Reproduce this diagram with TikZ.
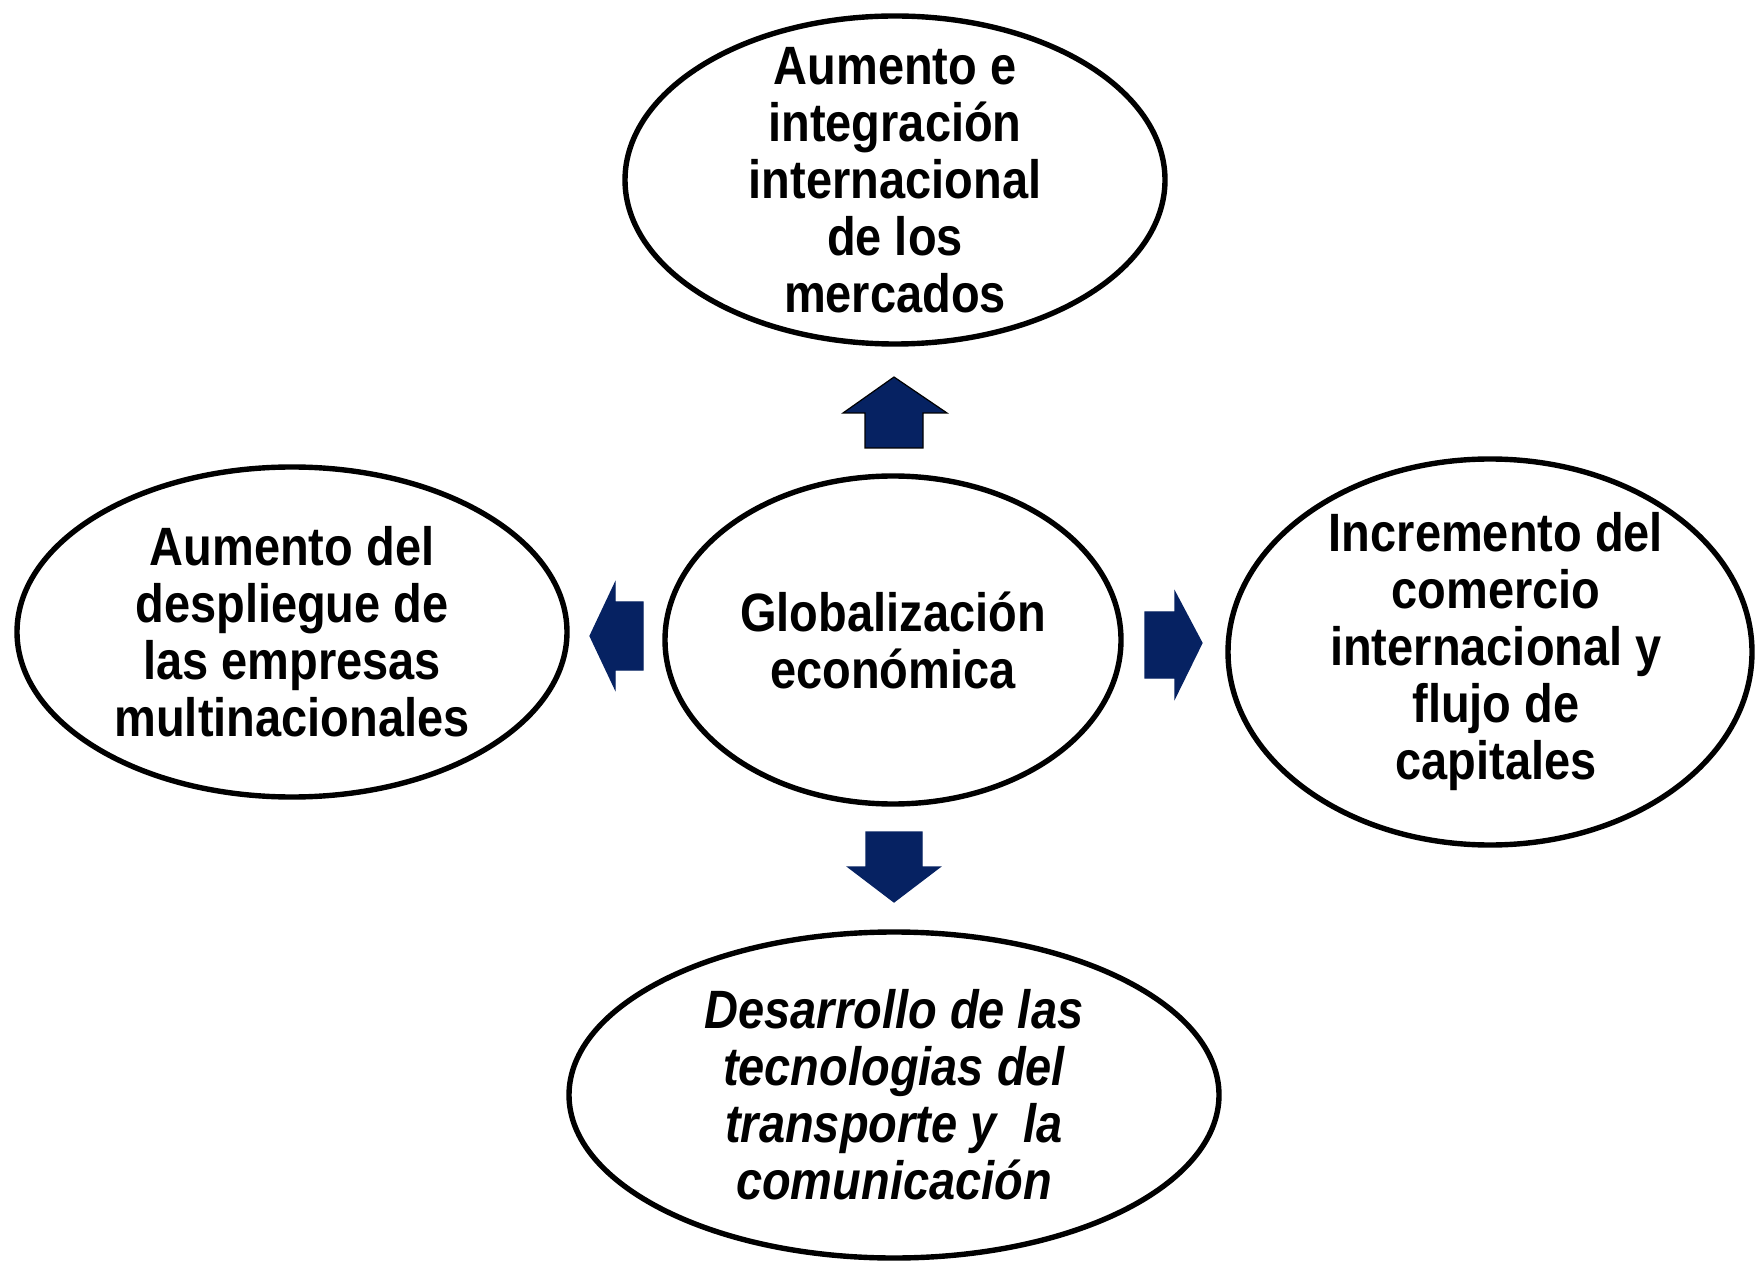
\documentclass[tikz,border=0pt]{standalone}
\usepackage{fontspec}
\setmainfont{Liberation Sans}[FakeStretch=0.87]
\usetikzlibrary{shapes.geometric}
\definecolor{navy}{RGB}{6,34,98}
\tikzset{
  bubble/.style={draw=black, line width=2.7pt, ellipse, inner sep=0pt},
  bubbletext/.style={inner sep=0pt, align=center,
    font=\fontsize{27pt}{28.5pt}\selectfont\bfseries},
  blockarrow/.style={fill=navy, draw=navy, line width=0.6pt, line join=miter}
}
\begin{document}
\begin{tikzpicture}[x=0.5pt,y=-0.5pt]
\useasboundingbox[fill=white] (0,0) rectangle (1756,1261);
\node[bubble, minimum width=270pt, minimum height=164pt] (top) at (895,180) {};
\node[bubbletext] (toptext) at (top.center)
  {Aumento e\\integración\\internacional\\de los\\mercados};
\node[bubble, minimum width=228pt, minimum height=164pt] (center) at (893,640) {};
\node[bubbletext] (centertext) at (center.center)
  {Globalización\\económica};
\node[bubble, minimum width=275pt, minimum height=165pt] (left) at (292,632) {};
\node[bubbletext] (lefttext) at (left.center)
  {Aumento del\\despliegue de\\las empresas\\multinacionales};
\node[bubble, minimum width=262pt, minimum height=193pt] (right) at (1490,652) {};
\node[bubbletext] (righttext) at ([xshift=3pt]right.center)
  {Incremento del\\comercio\\internacional y\\flujo de\\capitales};
\node[bubble, minimum width=325pt, minimum height=163pt] (bottom) at (894,1095) {};
\node[bubbletext, font=\fontsize{27pt}{28.5pt}\selectfont\bfseries\itshape] (bottomtext) at (bottom.center)
  {Desarrollo de las\\tecnologias del\\transporte y\enspace la\\comunicación};
% up arrow
\draw[blockarrow, draw=black] (894,377) -- (947,413) -- (923,413) -- (923,448) -- (865,448) -- (865,413) -- (843,413) -- cycle;
% left arrow
\draw[blockarrow] (590,636) -- (615,583) -- (615,602) -- (643,602) -- (643,670) -- (615,670) -- (615,689) -- cycle;
% right arrow
\draw[blockarrow] (1202,643) -- (1175,592) -- (1175,612) -- (1145,612) -- (1145,678) -- (1175,678) -- (1175,698) -- cycle;
% down arrow
\draw[blockarrow] (894,902) -- (940,867) -- (922,867) -- (922,832) -- (866,832) -- (866,867) -- (848,867) -- cycle;
\end{tikzpicture}
\end{document}
